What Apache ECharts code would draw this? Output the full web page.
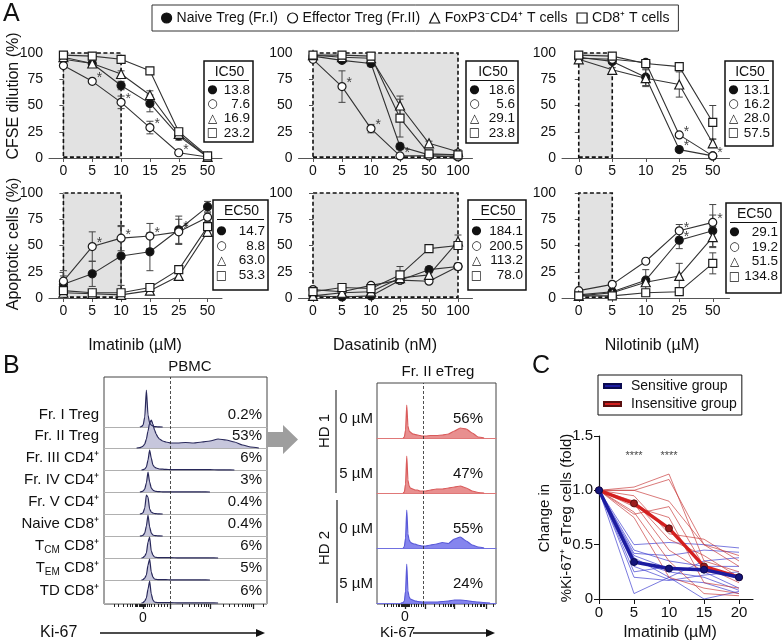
<!DOCTYPE html>
<html><head><meta charset="utf-8">
<script src="https://cdn.jsdelivr.net/npm/echarts@6/dist/echarts.min.js"></script>
<style>html,body{margin:0;padding:0;background:#fff}#c{width:783px;height:643px}</style>
</head><body><div id="c"></div>
<script>
const FONT = "'Liberation Sans', Arial, Helvetica, sans-serif";
const SYMF = "'DejaVu Sans', sans-serif";

// ---------------- Panel A data ----------------
const groupNames = ['Naive Treg (Fr.I)', 'Effector Treg (Fr.II)', 'FoxP3\u207BCD4\u207A T cells', 'CD8\u207A T cells'];
const groupSymbols = ['circle', 'circle', 'triangle', 'rect'];
const groupFills = ['#111', '#fff', '#fff', '#fff'];
const groupGlyphs = ['\u25CF', '\u25CB', '\u25B3', '\u25A1'];

const imaTicks = ['0', '5', '10', '15', '25', '50'];
const dasaTicks = ['0', '5', '10', '25', '50', '100'];
const niloTicks = ['0', '5', '10', '25', '50'];

// CFSE dilution (%) — rows: naive, effector, FoxP3-, CD8
const cfseImaMean = [[94, 90, 69, 52, 21, 1], [88, 73, 53, 29, 5, 1], [96, 90, 80, 60, 23, 1], [98, 97, 94, 83, 25, 2]];
const cfseImaErr = [[3, 2, 4, 8, 4, 1], [2, 2, 6, 6, 2, 1], [2, 2, 3, 4, 3, 1], [2, 2, 2, 2, 3, 1]];
const cfseImaStars = [[1, 1], [1, 2], [1, 3], [1, 4]];

const cfseDasaMean = [[97, 93, 90, 11, 3, 3], [94, 68, 28, 2, 2, 1], [98, 96, 95, 50, 14, 6], [98, 98, 97, 38, 4, 3]];
const cfseDasaErr = [[2, 2, 3, 3, 1, 1], [2, 15, 4, 1, 1, 1], [1, 1, 2, 9, 2, 2], [1, 1, 1, 18, 1, 1]];
const cfseDasaStars = [[1, 1], [1, 2], [1, 3]];

const cfseNiloMean = [[96, 92, 77, 8, 2], [95, 94, 91, 22, 2], [94, 84, 76, 70, 14], [98, 97, 90, 87, 34]];
const cfseNiloErr = [[2, 2, 8, 1, 1], [2, 2, 2, 2, 1], [2, 2, 8, 12, 4], [2, 2, 2, 2, 16]];
const cfseNiloStars = [[1, 3], [0, 3], [1, 4]];

// Apoptotic cells (%)
const apoImaMean = [[13, 23, 40, 44, 65, 87], [16, 49, 57, 59, 63, 77], [5, 4, 3, 7, 21, 63], [7, 5, 5, 10, 27, 68]];
const apoImaErr = [[8, 12, 28, 18, 13, 5], [10, 14, 12, 12, 12, 4], [2, 2, 2, 2, 3, 3], [2, 2, 2, 2, 3, 3]];
const apoImaStars = [[1, 1], [1, 2], [1, 3], [0, 4], [1, 4]];

const apoDasaMean = [[2, 1, 2, 17, 27, 30], [8, 6, 12, 17, 16, 30], [2, 5, 6, 19, 22, 54], [6, 10, 9, 22, 47, 50]];
const apoDasaErr = [[1, 1, 1, 3, 3, 3], [2, 2, 2, 3, 2, 3], [1, 1, 1, 3, 3, 6], [2, 2, 2, 8, 3, 3]];
const apoDasaStars = [];

const apoNiloMean = [[3, 6, 17, 55, 64], [7, 13, 35, 64, 72], [2, 5, 15, 21, 58], [2, 2, 5, 6, 33]];
const apoNiloErr = [[1, 2, 10, 8, 15], [2, 2, 2, 6, 17], [1, 1, 3, 12, 10], [1, 1, 2, 2, 10]];
const apoNiloStars = [[1, 3], [0, 3], [1, 4]];

const ic50Ima = ['13.8', '7.6', '16.9', '23.2'];
const ic50Dasa = ['18.6', '5.6', '29.1', '23.8'];
const ic50Nilo = ['13.1', '16.2', '28.0', '57.5'];
const ec50Ima = ['14.7', '8.8', '63.0', '53.3'];
const ec50Dasa = ['184.1', '200.5', '113.2', '78.0'];
const ec50Nilo = ['29.1', '19.2', '51.5', '134.8'];

// ---------------- Panel B data ----------------
const histX = [0, 15, 20, 22, 23, 24, 25, 26, 27, 28, 29, 30, 31, 32, 33, 34, 36, 38, 41, 45, 50, 55, 60, 65, 70, 75, 80, 85, 90, 95, 100];
const pbmcLabels = ['Fr. I Treg', 'Fr. II Treg', 'Fr. III CD4\u207A', 'Fr. IV CD4\u207A', 'Fr. V CD4\u207A', 'Naive CD8\u207A', 'T{s|CM} CD8\u207A', 'T{s|EM} CD8\u207A', 'TD CD8\u207A'];
const pbmcPct = ['0.2%', '53%', '6%', '3%', '0.4%', '0.4%', '6%', '5%', '6%'];
const pbmcHist = [
  [0, 0, 0, 0, 0.5, 2, 10, 37, 12, 4, 2, 1, 0.5, 0.3, 0.2, 0.1, 0, 0, 0, 0, 0, 0, 0, 0, 0, 0, 0, 0, 0, 0, 0],
  [0, 0, 0, 0.3, 1, 2, 4, 9, 17, 25, 28, 24, 18, 14, 11, 9, 7, 6, 5, 5, 5.5, 5, 6, 7, 9, 8, 6, 3, 1, 0, 0],
  [0, 0, 0, 0, 0, 0.3, 1, 3, 10, 20, 12, 5, 3, 2, 1.5, 1, 0.8, 0.6, 0.4, 0.3, 0.3, 0.3, 0.3, 0.3, 0.2, 0.1, 0, 0, 0, 0, 0],
  [0, 0, 0, 0, 0.3, 1, 3, 9, 20, 10, 4, 2, 1, 0.6, 0.4, 0.3, 0.2, 0.2, 0.2, 0.2, 0.2, 0.2, 0.1, 0, 0, 0, 0, 0, 0, 0, 0],
  [0, 0, 0, 0, 0.3, 1.5, 6, 19, 17, 5, 2, 1, 0.5, 0.3, 0.2, 0.1, 0, 0, 0, 0, 0, 0, 0, 0, 0, 0, 0, 0, 0, 0, 0],
  [0, 0, 0, 0, 0.2, 0.8, 3, 10, 21, 9, 3, 1, 0.5, 0.3, 0.2, 0.1, 0, 0, 0, 0, 0, 0, 0, 0, 0, 0, 0, 0, 0, 0, 0],
  [0, 0, 0, 0, 0, 0.5, 2, 5, 16, 21, 7, 3, 1, 0.6, 0.4, 0.3, 0.3, 0.3, 0.3, 0.2, 0.2, 0.2, 0.2, 0.1, 0, 0, 0, 0, 0, 0, 0],
  [0, 0, 0, 0, 0, 0.5, 2, 5, 15, 21, 8, 3, 1, 0.6, 0.4, 0.3, 0.3, 0.3, 0.2, 0.2, 0.2, 0.2, 0.1, 0, 0, 0, 0, 0, 0, 0, 0],
  [0, 0, 0, 0, 0, 0.5, 2, 5, 14, 22, 9, 3, 1, 0.6, 0.4, 0.3, 0.3, 0.3, 0.3, 0.2, 0.2, 0.2, 0.2, 0.1, 0, 0, 0, 0, 0, 0, 0]
];
const etregDoseLabels = ['0 \u00B5M', '5 \u00B5M', '0 \u00B5M', '5 \u00B5M'];
const etregPct = ['56%', '47%', '55%', '24%'];
const etregDonors = ['HD 1', 'HD 2'];
const etregHist = [
  [0, 0, 0, 0, 1, 8, 33, 12, 7, 6, 5, 4, 3.8, 3.5, 3.2, 3, 2.5, 2, 2, 2.5, 2.5, 3, 4, 7, 10, 9, 5, 1, 0, 0, 0],
  [0, 0, 0, 0, 1, 9, 37, 13, 7, 5, 4.5, 4, 3.5, 3, 3, 3, 2, 2, 2, 3, 4, 4, 5, 6, 7, 5, 2, 0.5, 0, 0, 0],
  [0, 0, 0, 0, 1.5, 10, 38, 14, 8, 6, 5, 4.5, 4, 4, 3.5, 3, 2.5, 2, 2, 3, 4, 5.5, 4.5, 9, 11, 7, 3, 1, 0, 0, 0],
  [0, 0, 0, 0.5, 2, 12, 39, 12, 6, 4, 3.5, 3, 2.5, 2, 1.8, 1.5, 1.2, 1, 1, 1, 1, 1.5, 2, 3, 3, 2.5, 1.5, 1, 0.5, 0, 0]
];
const kiMajor = [24, 40.5, 65, 91.4];
const kiMinor = [6, 9, 12, 14, 16, 17.5, 19, 20, 20.7, 21.4, 22.1, 22.8, 23.5, 24.9, 25.6, 26.3, 27.5, 29, 31, 33, 35, 37, 39,
  48, 52.3, 55.3, 57.6, 59.6, 61.2, 62.6, 63.9, 73, 77, 80, 82.5, 84.6, 86.4, 87.9, 89.3, 90.4, 98];

// ---------------- Panel C data ----------------
const cDoses = [0, 5, 10, 15, 20];
const cTicks = ['0', '5', '10', '15', '20'];
const sensitiveMean = [1.0, 0.34, 0.28, 0.27, 0.20];
const insensitiveMean = [1.0, 0.88, 0.65, 0.30, 0.20];
const sensitiveDonors = [
  [1, 0.50, 0.52, 0.50, 0.47], [1, 0.45, 0.35, 0.30, 0.30], [1, 0.42, 0.40, 0.45, 0.43], [1, 0.38, 0.20, 0.35, 0.38],
  [1, 0.35, 0.25, 0.20, 0.08], [1, 0.30, 0.18, 0.15, 0.05], [1, 0.25, 0.30, 0.25, 0.10], [1, 0.05, 0.20, 0.00, 0.07],
  [1, 0.40, 0.28, 0.27, 0.20], [1, 0.20, 0.17, 0.22, 0.25]
];
const insensitiveDonors = [
  [1, 1.03, 1.15, 0.35, 0.25], [1, 1.00, 1.10, 0.50, 0.40], [1, 0.95, 0.60, 0.55, 0.35], [1, 0.90, 0.55, 0.40, 0.20],
  [1, 0.85, 0.75, 0.15, 0.10], [1, 0.80, 0.35, 0.05, 0.03], [1, 0.75, 0.20, 0.10, 0.05], [1, 1.00, 0.90, 0.50, 0.30],
  [1, 0.88, 0.45, 0.25, 0.22], [1, 0.78, 0.85, 0.30, 0.15]
];
const cStars = [[5, 1.32], [10, 1.32]];

// ---------------- builders ----------------
const grids = [], xAxes = [], yAxes = [], series = [], G = [];
function addGrid(g) { grids.push(Object.assign({ outerBoundsMode: 'none', containLabel: false }, g)); return grids.length - 1; }
function T(x, y, text, o = {}) {
  return { type: 'text', x, y, rotation: o.rot || 0, z: o.z || 20,
    style: { text, fontSize: o.size || 14, fontFamily: o.family || FONT, fill: o.color || '#111',
      align: o.align || 'left', verticalAlign: o.va || 'middle', rich: o.rich, fontWeight: 'normal' } };
}
function errRender(params, api) {
  const x = api.value(0), lo = api.value(1), hi = api.value(2);
  const a = api.coord([x, lo]), b = api.coord([x, hi]);
  const w = 3.5, st = { stroke: '#444', lineWidth: 1 };
  return { type: 'group', children: [
    { type: 'line', shape: { x1: a[0], y1: a[1], x2: b[0], y2: b[1] }, style: st },
    { type: 'line', shape: { x1: a[0] - w, y1: a[1], x2: a[0] + w, y2: a[1] }, style: st },
    { type: 'line', shape: { x1: b[0] - w, y1: b[1], x2: b[0] + w, y2: b[1] }, style: st }
  ] };
}
function panelA(p) {
  const gi = addGrid({ left: p.left, top: p.top, width: p.width, height: 105 });
  const idx = p.ticks.map((t, i) => i);
  const xi = xAxes.push({ type: 'value', gridIndex: gi, min: -0.5, max: p.ticks.length - 0.5,
    axisLine: { show: true, onZero: false, lineStyle: { color: '#555', width: 1 } },
    axisTick: { show: true, customValues: idx, length: 4, lineStyle: { color: '#555' } },
    axisLabel: { customValues: idx, formatter: v => p.ticks[Math.round(v)], fontSize: 14, color: '#111', margin: 6, fontFamily: FONT },
    splitLine: { show: false } }) - 1;
  const yi = yAxes.push({ type: 'value', gridIndex: gi, min: 0, max: 100, interval: 25,
    axisLine: { show: true, lineStyle: { color: '#555', width: 1 } },
    axisTick: { show: true, length: 4, lineStyle: { color: '#555' } },
    axisLabel: { fontSize: 14, color: '#111', margin: 6, fontFamily: FONT }, splitLine: { show: false } }) - 1;
  const shadeEnd = p.ticks.indexOf(p.shadeTo);
  series.push({ type: 'line', xAxisIndex: xi, yAxisIndex: yi, data: [[0, 0]], symbol: 'none', lineStyle: { width: 0 }, silent: true, z: 0,
    markArea: { silent: true, itemStyle: { color: '#e2e2e2', borderColor: '#111', borderWidth: 1.6, borderType: [4, 2.5] },
      data: [[{ coord: [0, 0.8] }, { coord: [shadeEnd, 101.8] }]] } });
  p.mean.forEach((arr, g) => {
    series.push({ type: 'custom', xAxisIndex: xi, yAxisIndex: yi, renderItem: errRender, silent: true, z: 2,
      encode: { x: 0, y: [1, 2] }, data: arr.map((v, i) => [i, v - p.err[g][i], v + p.err[g][i]]) });
  });
  p.mean.forEach((arr, g) => {
    series.push({ type: 'line', name: groupNames[g], xAxisIndex: xi, yAxisIndex: yi, data: arr.map((v, i) => [i, v]),
      symbol: groupSymbols[g], symbolSize: g === 2 ? 9 : 8, showAllSymbol: true,
      itemStyle: { color: groupFills[g], borderColor: '#1a1a1a', borderWidth: 1.2 },
      lineStyle: { color: '#333', width: 1.1 }, z: 3, silent: true });
  });
  series.push({ type: 'scatter', xAxisIndex: xi, yAxisIndex: yi, silent: true, z: 4,
    data: p.stars.map(s => [s[1], p.mean[s[0]][s[1]]]), symbolSize: 1, itemStyle: { color: 'rgba(0,0,0,0)' },
    label: { show: true, formatter: '*', position: 'right', distance: 4, offset: [0, -3], fontSize: 14, color: '#111', fontFamily: FONT } });
}
function statBox(x, y, w, h, title, vals, gap, first) {
  G.push({ type: 'rect', z: 15, shape: { x, y, width: w, height: h }, style: { fill: '#fff', stroke: '#111', lineWidth: 1.5 } });
  G.push(T(x + w / 2 + 1, y + 11, title, { align: 'center', size: 14 }));
  G.push({ type: 'line', z: 16, shape: { x1: x + 4, y1: y + 19.5, x2: x + w - 4, y2: y + 19.5 }, style: { stroke: '#111', lineWidth: 1.2 } });
  vals.forEach((v, i) => {
    G.push(T(x + 8.5, y + first + i * gap, groupGlyphs[i], { align: 'center', family: SYMF, size: 12 }));
    G.push(T(x + w - 3, y + first + i * gap, v, { align: 'right', size: 13.5 }));
  });
}
function trimmed(vals) {
  let a = 0, b = vals.length - 1;
  while (a < b && vals[a + 1] === 0) a++;
  while (b > a && vals[b - 1] === 0) b--;
  const out = [];
  for (let i = a; i <= b; i++) out.push([histX[i], vals[i]]);
  return out;
}
function histRow(left, width, baseline, h, vals, lineColor, fillColor, baseColor) {
  const gi = addGrid({ left, width, top: baseline - h, height: h });
  const xi = xAxes.push({ type: 'value', gridIndex: gi, min: 0, max: 100,
    axisLine: { show: true, onZero: false, lineStyle: { color: baseColor, width: 1 } },
    axisTick: { show: false }, axisLabel: { show: false }, splitLine: { show: false } }) - 1;
  const yi = yAxes.push({ type: 'value', gridIndex: gi, min: 0, max: h, show: false, splitLine: { show: false } }) - 1;
  series.push({ type: 'line', xAxisIndex: xi, yAxisIndex: yi, data: trimmed(vals), smooth: 0.2, smoothMonotone: 'x',
    symbol: 'none', clip: false, silent: true, lineStyle: { color: lineColor, width: 1.2 }, areaStyle: { color: fillColor, opacity: 1 } });
}
function frame(left, top, width, height, gate) {
  const gi = addGrid({ left, top, width, height, show: true, borderColor: '#444', borderWidth: 1, backgroundColor: 'rgba(0,0,0,0)' });
  const xi = xAxes.push({ type: 'value', gridIndex: gi, min: 0, max: 100, position: 'bottom',
    axisLine: { show: false }, axisTick: { show: true, customValues: kiMajor, length: 5, lineStyle: { color: '#222', width: 1.3 } },
    axisLabel: { show: false }, splitLine: { show: false } }) - 1;
  xAxes.push({ type: 'value', gridIndex: gi, min: 0, max: 100, position: 'bottom',
    axisLine: { show: false }, axisTick: { show: true, customValues: kiMinor, length: 3, lineStyle: { color: '#222', width: 1 } },
    axisLabel: { show: false }, splitLine: { show: false } });
  const yi = yAxes.push({ type: 'value', gridIndex: gi, min: 0, max: 1, show: false, splitLine: { show: false } }) - 1;
  series.push({ type: 'line', xAxisIndex: xi, yAxisIndex: yi, data: [[0, 0]], symbol: 'none', lineStyle: { width: 0 }, z: 6, silent: true,
    markLine: { silent: true, symbol: ['none', 'none'], label: { show: false }, lineStyle: { type: [3, 2], color: '#222', width: 0.8 },
      data: [{ xAxis: gate }] } });
}

// ---------------- Panel A ----------------
const colA = [{ left: 49, width: 173 }, { left: 298.5, width: 174 }, { left: 562, width: 167.5 }];
panelA({ left: colA[0].left, width: colA[0].width, top: 53, ticks: imaTicks, shadeTo: '10', mean: cfseImaMean, err: cfseImaErr, stars: cfseImaStars });
panelA({ left: colA[1].left, width: colA[1].width, top: 53, ticks: dasaTicks, shadeTo: '100', mean: cfseDasaMean, err: cfseDasaErr, stars: cfseDasaStars });
panelA({ left: colA[2].left, width: colA[2].width, top: 53, ticks: niloTicks, shadeTo: '5', mean: cfseNiloMean, err: cfseNiloErr, stars: cfseNiloStars });
panelA({ left: colA[0].left, width: colA[0].width, top: 193, ticks: imaTicks, shadeTo: '10', mean: apoImaMean, err: apoImaErr, stars: apoImaStars });
panelA({ left: colA[1].left, width: colA[1].width, top: 193, ticks: dasaTicks, shadeTo: '100', mean: apoDasaMean, err: apoDasaErr, stars: apoDasaStars });
panelA({ left: colA[2].left, width: colA[2].width, top: 193, ticks: niloTicks, shadeTo: '5', mean: apoNiloMean, err: apoNiloErr, stars: apoNiloStars });

statBox(204, 61, 49, 81, 'IC50', ic50Ima, 14.3, 29);
statBox(466, 61, 52, 82, 'IC50', ic50Dasa, 14.3, 29);
statBox(725, 61, 48, 85, 'IC50', ic50Nilo, 14.3, 29);
statBox(213, 200, 55, 90, 'EC50', ec50Ima, 14.8, 31);
statBox(468, 200, 58, 90, 'EC50', ec50Dasa, 14.8, 31);
statBox(726, 203, 55, 90, 'EC50', ec50Nilo, 14.8, 29);

G.push(T(3, 14, 'A', { size: 25 }));
G.push(T(14, 96, 'CFSE dilution (%)', { align: 'center', rot: Math.PI / 2, size: 16 }));
G.push(T(14, 244, 'Apoptotic cells (%)', { align: 'center', rot: Math.PI / 2, size: 16 }));
G.push(T(135, 346, 'Imatinib (\u00B5M)', { align: 'center', size: 16 }));
G.push(T(385, 346, 'Dasatinib (nM)', { align: 'center', size: 16 }));
G.push(T(652, 346, 'Nilotinib (\u00B5M)', { align: 'center', size: 16 }));

// ---------------- Panel B ----------------
G.push(T(3, 366, 'B', { size: 25 }));
G.push(T(190, 367, 'PBMC', { align: 'center', size: 15 }));
frame(104, 377, 163, 227, 40.5);
const pbmcBase = [427, 448, 470, 492, 514, 536, 558, 580, 603];
pbmcHist.forEach((vals, i) => {
  histRow(104, 163, pbmcBase[i], 50, vals, '#28285a', '#c6c6dc', '#b0b0b0');
  G.push(T(99, pbmcBase[i] - 12, pbmcLabels[i], { align: 'right', size: 15,
    rich: { s: { fontSize: 10, fontFamily: FONT, fill: '#111', verticalAlign: 'bottom', lineHeight: 18 } } }));
  G.push(T(262, pbmcBase[i] - 12, pbmcPct[i], { align: 'right', size: 15 }));
});
G.push(T(143, 618, '0', { align: 'center', size: 14 }));
G.push(T(40, 633, 'Ki-67', { size: 16 }));
G.push({ type: 'line', z: 20, shape: { x1: 100, y1: 633, x2: 257, y2: 633 }, style: { stroke: '#111', lineWidth: 1.5 } });
G.push({ type: 'polygon', z: 20, shape: { points: [[256, 629], [265, 633], [256, 637]] }, style: { fill: '#111' } });
G.push({ type: 'polygon', z: 20, shape: { points: [[267, 432], [283, 432], [283, 425], [298, 439.5], [283, 454], [283, 447], [267, 447]] }, style: { fill: '#9e9e9e' } });

G.push(T(438, 372, 'Fr. II eTreg', { align: 'center', size: 15 }));
frame(377, 383, 119, 221, 38.7);
const etBase = [438, 493, 548, 603];
etregHist.forEach((vals, i) => {
  const red = i < 2;
  histRow(377, 119, etBase[i], 52, vals, red ? '#d95c5c' : '#5a5ad8', red ? '#e88f8f' : '#8585ee', red ? '#e07878' : '#7070e0');
  G.push(T(373, etBase[i] - 19, etregDoseLabels[i], { align: 'right', size: 15 }));
  G.push(T(468, etBase[i] - 19, etregPct[i], { align: 'center', size: 15 }));
});
G.push(T(325, 431, etregDonors[0], { align: 'center', rot: Math.PI / 2, size: 15 }));
G.push(T(325, 548, etregDonors[1], { align: 'center', rot: Math.PI / 2, size: 15 }));
G.push({ type: 'line', z: 20, shape: { x1: 336, y1: 390, x2: 336, y2: 493 }, style: { stroke: '#888', lineWidth: 2 } });
G.push({ type: 'line', z: 20, shape: { x1: 337, y1: 500, x2: 337, y2: 603 }, style: { stroke: '#222', lineWidth: 1.2 } });
G.push(T(405, 617, '0', { align: 'center', size: 14 }));
G.push(T(380, 633, 'Ki-67', { size: 15 }));
G.push({ type: 'line', z: 20, shape: { x1: 413, y1: 633, x2: 487, y2: 633 }, style: { stroke: '#111', lineWidth: 1.5 } });
G.push({ type: 'polygon', z: 20, shape: { points: [[486, 629], [495, 633], [486, 637]] }, style: { fill: '#111' } });

// ---------------- Panel C ----------------
G.push(T(532, 366, 'C', { size: 25 }));
const gC = addGrid({ left: 599, top: 436, width: 154, height: 163 });
const xC = xAxes.push({ type: 'value', gridIndex: gC, min: 0, max: 22,
  axisLine: { show: true, lineStyle: { color: '#111', width: 1.2 } },
  axisTick: { show: true, customValues: cDoses, length: 5, lineStyle: { color: '#111' } },
  axisLabel: { customValues: cDoses, formatter: v => cTicks[cDoses.indexOf(v)], fontSize: 15, color: '#111', margin: 6, fontFamily: FONT },
  splitLine: { show: false } }) - 1;
const yC = yAxes.push({ type: 'value', gridIndex: gC, min: 0, max: 1.5, interval: 0.5,
  axisLine: { show: true, lineStyle: { color: '#111', width: 1.2 } },
  axisTick: { show: true, length: 5, lineStyle: { color: '#111' } },
  axisLabel: { formatter: v => (v === 0 ? '0' : v.toFixed(1)), fontSize: 15, color: '#111', margin: 6, fontFamily: FONT },
  splitLine: { show: false } }) - 1;
sensitiveDonors.forEach(d => series.push({ type: 'line', xAxisIndex: xC, yAxisIndex: yC, data: cDoses.map((x, i) => [x, d[i]]),
  symbol: 'none', silent: true, z: 2, lineStyle: { color: '#3b3bd0', width: 0.8, opacity: 0.85 } }));
insensitiveDonors.forEach(d => series.push({ type: 'line', xAxisIndex: xC, yAxisIndex: yC, data: cDoses.map((x, i) => [x, d[i]]),
  symbol: 'none', silent: true, z: 2, lineStyle: { color: '#c83a3a', width: 0.8, opacity: 0.85 } }));
series.push({ type: 'line', name: 'Insensitive group', xAxisIndex: xC, yAxisIndex: yC, data: cDoses.map((x, i) => [x, insensitiveMean[i]]),
  symbol: 'circle', symbolSize: 7, silent: true, z: 3, itemStyle: { color: '#9a1c1c', borderColor: '#5a1010', borderWidth: 1 },
  lineStyle: { color: '#d42020', width: 3.5 } });
series.push({ type: 'line', name: 'Sensitive group', xAxisIndex: xC, yAxisIndex: yC, data: cDoses.map((x, i) => [x, sensitiveMean[i]]),
  symbol: 'circle', symbolSize: 7, silent: true, z: 4, itemStyle: { color: '#15157a', borderColor: '#0a0a50', borderWidth: 1 },
  lineStyle: { color: '#1c1ca0', width: 3.5 } });
series.push({ type: 'scatter', xAxisIndex: xC, yAxisIndex: yC, data: cStars, symbolSize: 1, silent: true, itemStyle: { color: 'rgba(0,0,0,0)' },
  label: { show: true, formatter: '****', position: 'inside', fontSize: 11, color: '#111', fontFamily: FONT } });
G.push(T(545, 518, 'Change in', { align: 'center', rot: Math.PI / 2, size: 15 }));
G.push(T(567, 518, '%Ki-67\u207A eTreg cells (fold)', { align: 'center', rot: Math.PI / 2, size: 15 }));
G.push(T(670, 633, 'Imatinib (\u00B5M)', { align: 'center', size: 16 }));

// ---------------- chart ----------------
const chart = echarts.init(document.getElementById('c'), null, { renderer: 'canvas' });
chart.setOption({
  animation: false,
  backgroundColor: '#fff',
  textStyle: { fontFamily: FONT },
  legend: [
    { data: groupNames.map((n, i) => ({ name: n, icon: groupSymbols[i], itemStyle: { color: groupFills[i], borderColor: '#111', borderWidth: 1.2 } })),
      left: 152, top: 5, orient: 'horizontal', itemWidth: 10, itemHeight: 10, itemGap: 9, padding: [6, 9, 6, 9],
      borderColor: '#333', borderWidth: 1, selectedMode: false, textStyle: { fontSize: 14, color: '#111', fontFamily: FONT } },
    { data: [{ name: 'Sensitive group', icon: 'rect', itemStyle: { color: '#1c1ca0' } }, { name: 'Insensitive group', icon: 'rect', itemStyle: { color: '#d42020' } }],
      left: 598, top: 375, orient: 'vertical', itemWidth: 17, itemHeight: 4, itemGap: 2, padding: [3, 5, 3, 5],
      borderColor: '#111', borderWidth: 1, selectedMode: false, textStyle: { fontSize: 14, color: '#111', fontFamily: FONT, padding: [0, 0, 0, 5], lineHeight: 16 } }
  ],
  grid: grids, xAxis: xAxes, yAxis: yAxes, series,
  graphic: { elements: G }
});
</script></body></html>
